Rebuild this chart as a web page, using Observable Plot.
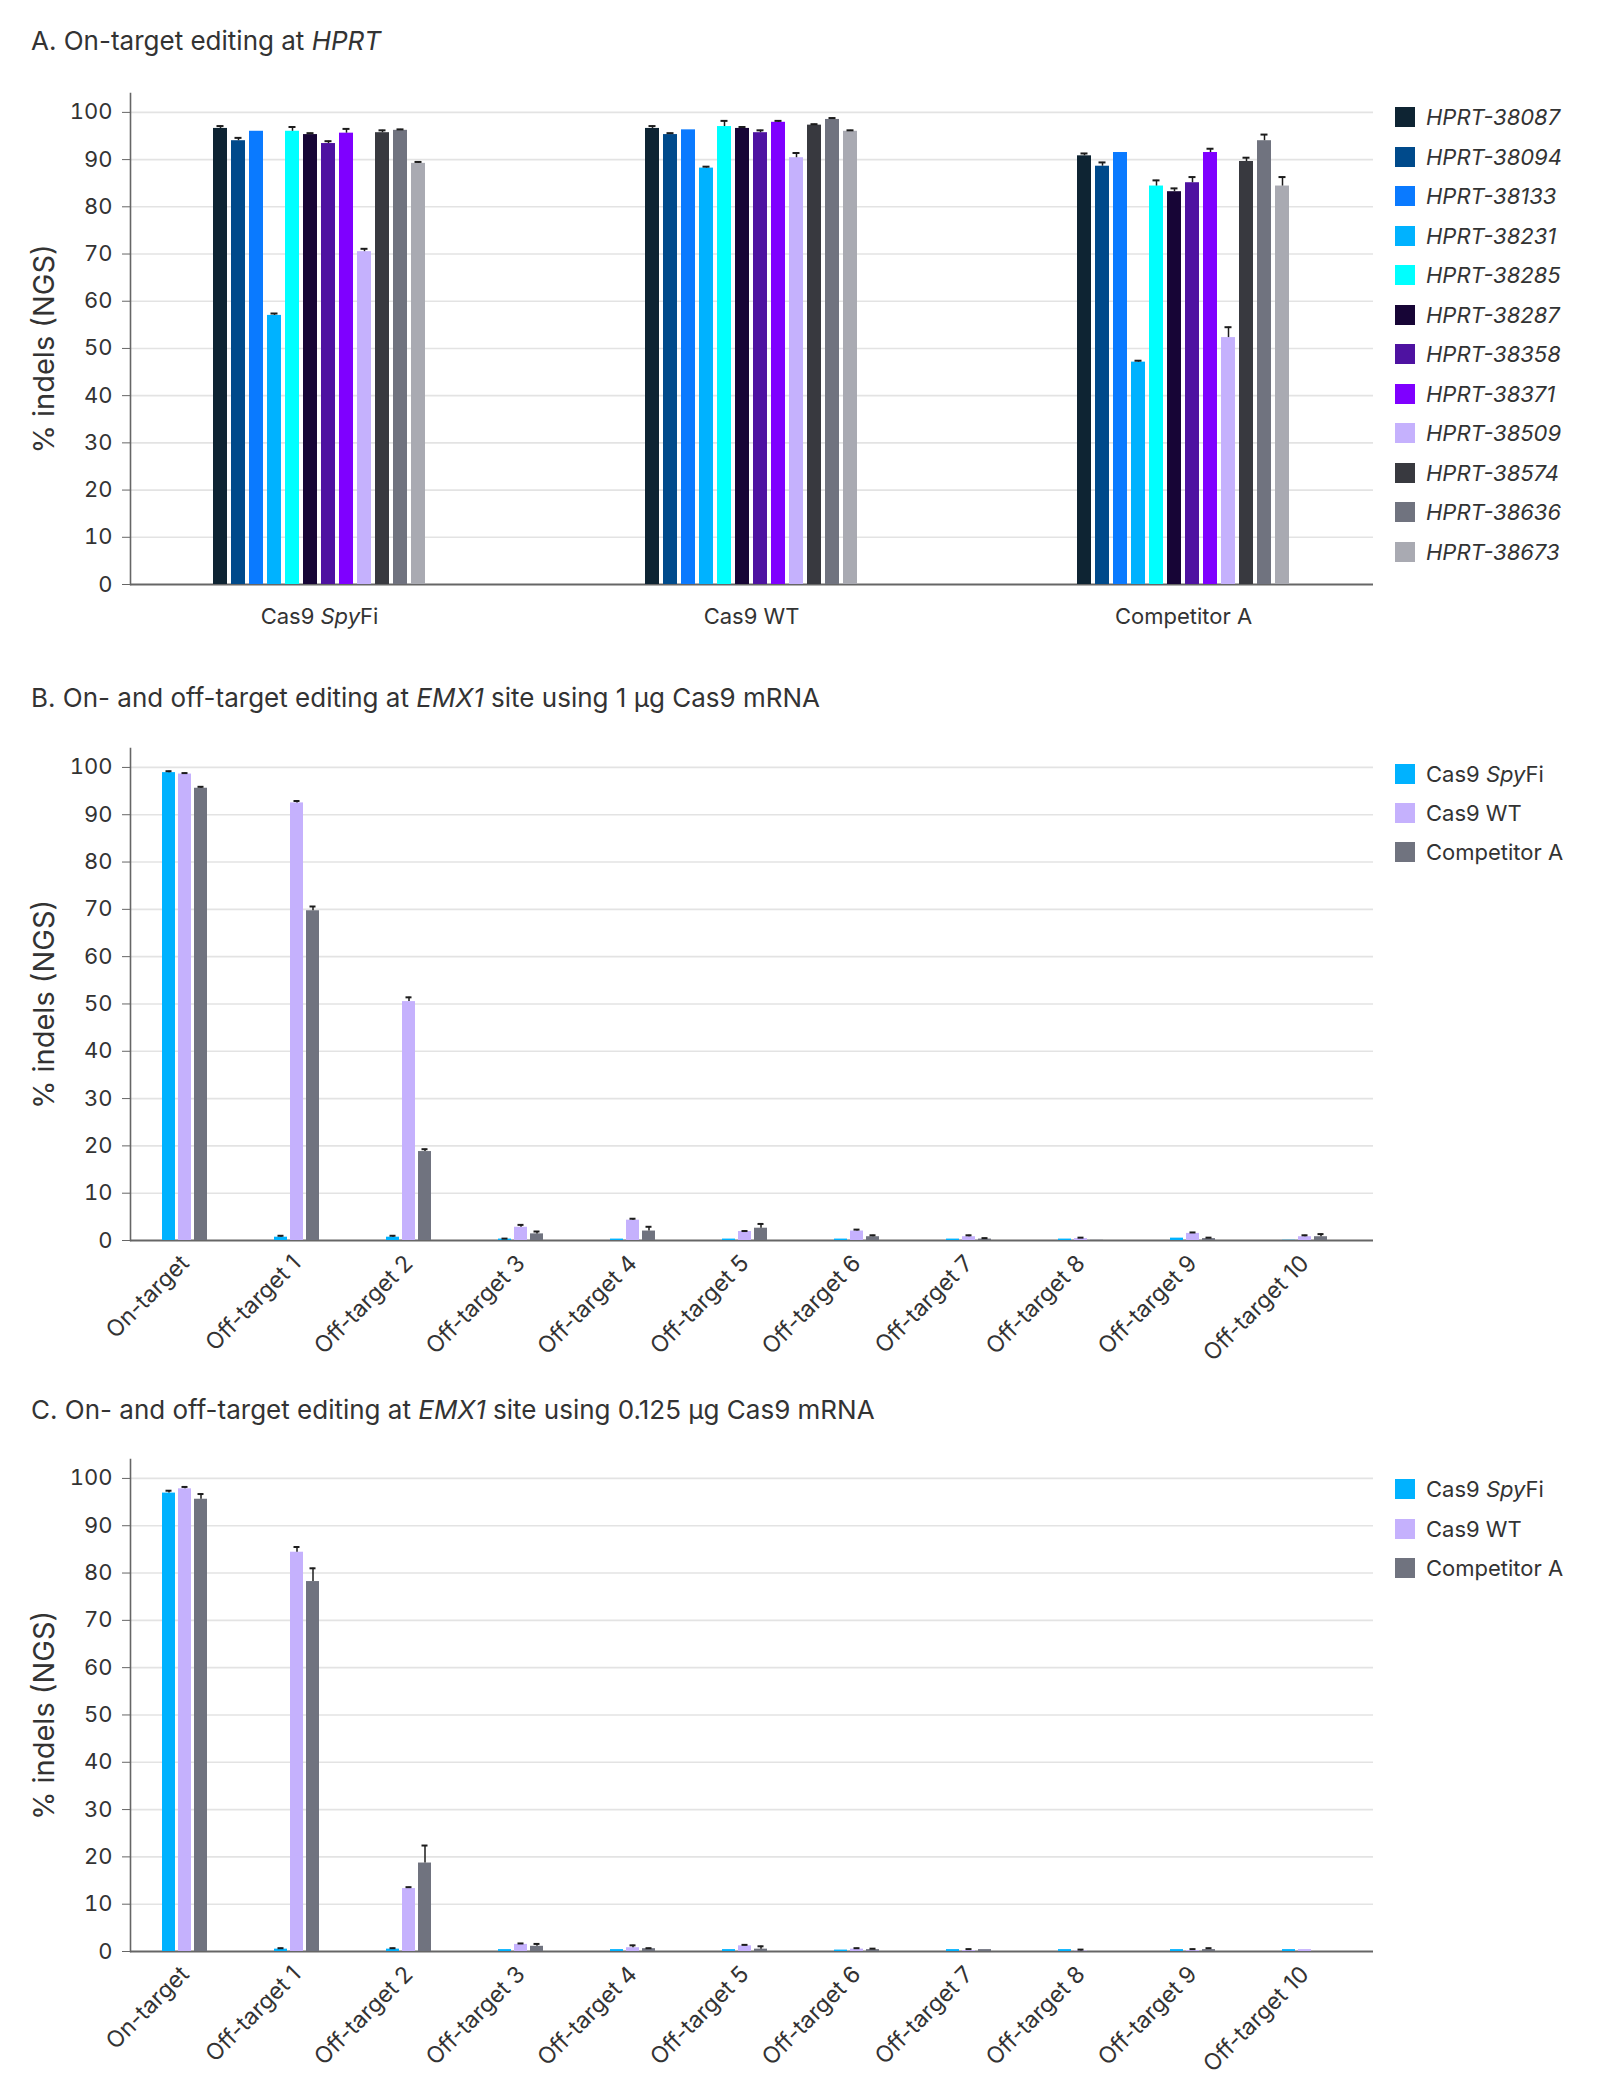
<!DOCTYPE html>
<html><head><meta charset="utf-8">
<script src="https://cdn.jsdelivr.net/npm/d3@7"></script>
<script src="https://cdn.jsdelivr.net/npm/@observablehq/plot@0.6"></script>
<style>
body{margin:0;background:#fff;font-family:Inter,"Noto Sans",sans-serif;color:#333;}
#wrap{position:relative;width:1601px;height:2082px;overflow:hidden;background:#fff;}
.title{position:absolute;left:31px;font-size:26px;line-height:30px;white-space:nowrap;color:#333;}
.panel{position:absolute;left:0;max-width:none !important;}
.legend{position:absolute;left:1395px;top:0;}
.item{position:absolute;left:0;display:flex;align-items:center;white-space:nowrap;font-size:22px;height:30px;color:#333;}
.sw{width:20px;height:20px;margin-right:11px;flex:none;}
</style></head><body><div id="wrap"></div>
<script>
// ---------- DATA ----------
const hprtGroups = ["Cas9 SpyFi", "Cas9 WT", "Competitor A"];
const hprtGuides = ["HPRT-38087","HPRT-38094","HPRT-38133","HPRT-38231","HPRT-38285","HPRT-38287","HPRT-38358","HPRT-38371","HPRT-38509","HPRT-38574","HPRT-38636","HPRT-38673"];
const hprtColors = ["#0e2433","#004a8b","#0a7aff","#00b2ff","#00ffff","#170536","#4e12a1","#7f00ff","#c5b1fd","#38393f","#70737f","#a9aab2"];
const hprtSpyFi    = [96.6, 94.0, 96.0, 57.0, 96.0, 95.3, 93.4, 95.6, 70.5, 95.7, 96.2, 89.2];
const hprtSpyFiErr = [0.5, 0.6, 0, 0.4, 0.9, 0.3, 0.5, 0.9, 0.6, 0.5, 0.2, 0.3];
const hprtWT       = [96.6, 95.3, 96.3, 88.2, 97.0, 96.6, 95.7, 97.9, 90.4, 97.3, 98.5, 96.0];
const hprtWTErr    = [0.5, 0.3, 0, 0.3, 1.2, 0.3, 0.5, 0.3, 1.0, 0.2, 0.3, 0.2];
const hprtCompA    = [90.8, 88.6, 91.5, 47.1, 84.4, 83.2, 85.1, 91.5, 52.3, 89.6, 94.0, 84.4];
const hprtCompAErr = [0.5, 0.8, 0, 0.3, 1.2, 0.7, 1.2, 0.8, 2.2, 0.8, 1.3, 1.9];

const emxSites = ["On-target","Off-target 1","Off-target 2","Off-target 3","Off-target 4","Off-target 5","Off-target 6","Off-target 7","Off-target 8","Off-target 9","Off-target 10"];
const emxSeries = ["Cas9 SpyFi", "Cas9 WT", "Competitor A"];
const emxColors = ["#00b2ff", "#c5b1fd", "#70737f"];
// B: 1 µg Cas9 mRNA
const b_SpyFi    = [98.9, 0.7, 0.7, 0.3, 0.3, 0.3, 0.3, 0.3, 0.3, 0.5, 0.05];
const b_SpyFiErr = [0.3, 0.3, 0.3, 0.1, 0, 0, 0, 0, 0, 0, 0];
const b_WT       = [98.6, 92.5, 50.5, 2.8, 4.3, 1.9, 2.0, 0.8, 0.4, 1.5, 0.8];
const b_WTErr    = [0.2, 0.4, 0.9, 0.5, 0.3, 0.1, 0.3, 0.3, 0.2, 0.2, 0.3];
const b_CompA    = [95.6, 69.7, 18.8, 1.4, 2.0, 2.6, 0.8, 0.3, 0.05, 0.4, 0.8];
const b_CompAErr = [0.3, 0.9, 0.5, 0.5, 0.9, 0.9, 0.3, 0.2, 0, 0.2, 0.55];
// C: 0.125 µg Cas9 mRNA
const c_SpyFi    = [96.9, 0.5, 0.5, 0.4, 0.4, 0.4, 0.3, 0.4, 0.4, 0.4, 0.4];
const c_SpyFiErr = [0.5, 0.2, 0.2, 0, 0, 0, 0, 0, 0, 0, 0];
const c_WT       = [97.8, 84.4, 13.3, 1.5, 0.8, 1.2, 0.5, 0.2, 0.1, 0.2, 0.4];
const c_WTErr    = [0.4, 1.1, 0.3, 0.2, 0.5, 0.2, 0.2, 0.3, 0.3, 0.3, 0];
const c_CompA    = [95.6, 78.2, 18.7, 1.1, 0.6, 0.5, 0.4, 0.4, 0, 0.4, 0];
const c_CompAErr = [1.1, 2.8, 3.7, 0.5, 0.1, 0.6, 0.2, 0, 0, 0.3, 0];

const yTicks = [0,10,20,30,40,50,60,70,80,90,100];
const yLabel = "% indels (NGS)";

// ---------- BUILD ROWS ----------
const rowsA = [];
[[hprtSpyFi, hprtSpyFiErr], [hprtWT, hprtWTErr], [hprtCompA, hprtCompAErr]].forEach(([v, e], gi) => {
  hprtGuides.forEach((s, i) => rowsA.push({group: hprtGroups[gi], series: s, value: v[i], err: e[i]}));
});
function emxRows(sets) {
  const rows = [];
  emxSites.forEach((site, i) => {
    sets.forEach(([v, e], si) => rows.push({group: site, series: emxSeries[si], value: v[i], err: e[i]}));
  });
  return rows;
}
const rowsB = emxRows([[b_SpyFi, b_SpyFiErr], [b_WT, b_WTErr], [b_CompA, b_CompAErr]]);
const rowsC = emxRows([[c_SpyFi, c_SpyFiErr], [c_WT, c_WTErr], [c_CompA, c_CompAErr]]);

// ---------- CHART ----------
const wrap = document.getElementById("wrap");
const FONT = "Inter, 'Noto Sans', sans-serif";

function italicize(svg) {
  svg.querySelectorAll("text, tspan").forEach(t => {
    if (t.childNodes.length === 1 && t.firstChild.nodeType === 3 && t.textContent === "Cas9 SpyFi") {
      t.textContent = "";
      const ns = "http://www.w3.org/2000/svg";
      t.appendChild(document.createTextNode("Cas9 "));
      const it = document.createElementNS(ns, "tspan");
      it.setAttribute("font-style", "italic");
      it.textContent = "Spy";
      t.appendChild(it);
      t.appendChild(document.createTextNode("Fi"));
    }
  });
}

function place(svg, top) {
  svg.classList.add("panel");
  svg.style.top = top + "px";
  wrap.appendChild(svg);
}

function panel(cfg) {
  const common = {
    width: 1601,
    height: cfg.height,
    marginTop: 10, marginLeft: 130, marginRight: 228, marginBottom: cfg.marginBottom,
    style: {fontFamily: FONT, fontSize: "22px", color: "#333", background: "transparent"}
  };
  // background layer: grid, y axis, baseline, axis title
  const back = Plot.plot({
    ...common,
    y: {domain: [0, 104], axis: null},
    marks: [
      Plot.ruleY(yTicks.filter(d => d > 0), {stroke: "#e3e3e3", strokeWidth: 1.6}),
      Plot.axisY(yTicks, {anchor: "left", tickSize: 8, tickPadding: 10, stroke: "#666", fill: "#333", label: null}),
      Plot.text([yLabel], {frameAnchor: "left", textAnchor: "middle", rotate: -90, dx: -86, dy: 10, fontSize: 29, fill: "#333"}),
      Plot.ruleY([0], {stroke: "#666", strokeWidth: 2}),
      Plot.frame({anchor: "left", stroke: "#666", strokeWidth: 1.6})
    ]
  });
  back.querySelectorAll("text").forEach(t => {
    if (t.textContent === yLabel) { t.style.fontSize = "29px"; t.setAttribute("text-anchor", "middle"); }
  });
  place(back, cfg.top);
  // foreground layer: grouped bars with error bars
  const errRows = cfg.rows.filter(d => d.err > 0);
  const front = Plot.plot({
    ...common,
    fx: {domain: cfg.groups, label: null, tickSize: 0, ...cfg.fx},
    x: {domain: cfg.series, axis: null, ...cfg.x},
    y: {domain: [0, 104], axis: null},
    color: {domain: cfg.series, range: cfg.colors},
    marks: [
      Plot.barY(cfg.rows, {fx: "group", x: "series", y: "value", fill: "series"}),
      Plot.ruleX(errRows, {fx: "group", x: "series", y1: "value", y2: d => d.value + d.err, stroke: "#1c1c1c", strokeWidth: 1.5}),
      Plot.tickY(errRows, {fx: "group", x: "series", y: d => d.value + d.err, stroke: "#1c1c1c", strokeWidth: 2, insetLeft: 3.5, insetRight: 3.5})
    ]
  });
  if (cfg.fxFontSize) {
    front.querySelectorAll("text").forEach(t => {
      if (cfg.groups.includes(t.textContent)) t.style.fontSize = cfg.fxFontSize;
    });
  }
  italicize(front);
  place(front, cfg.top);
}

function title(html, top) {
  const d = document.createElement("div");
  d.className = "title";
  d.style.top = top + "px";
  d.innerHTML = html;
  wrap.appendChild(d);
}

function legend(labels, colors, firstCenter, step) {
  const lg = document.createElement("div");
  lg.className = "legend";
  labels.forEach((l, i) => {
    const it = document.createElement("div");
    it.className = "item";
    it.style.top = (firstCenter + i * step - 15) + "px";
    const sw = document.createElement("div");
    sw.className = "sw";
    sw.style.background = colors[i];
    const tx = document.createElement("span");
    tx.innerHTML = l;
    it.appendChild(sw); it.appendChild(tx);
    lg.appendChild(it);
  });
  wrap.appendChild(lg);
}

title("A. On-target editing at <i>HPRT</i>", 26);
panel({
  rows: rowsA, groups: hprtGroups, series: hprtGuides, colors: hprtColors,
  top: 83, height: 561, marginBottom: 60,
  fx: {paddingInner: 0.49, paddingOuter: 0.1834, tickPadding: 24},
  x: {paddingInner: 0.21, paddingOuter: 0.105}
});
legend(hprtGuides.map(g => "<i>" + g + "</i>"), hprtColors, 117, 39.5);

const emxLegend = emxSeries.map(s => s === "Cas9 SpyFi" ? "Cas9 <i>Spy</i>Fi" : s);

title("B. On- and off-target editing at <i>EMX1</i> site using 1 µg Cas9 mRNA", 683);
panel({
  rows: rowsB, groups: emxSites, series: emxSeries, colors: emxColors,
  top: 738, height: 627, marginBottom: 125, fxFontSize: "23px",
  fx: {paddingInner: 0.578, paddingOuter: 0.3255, align: 0.407, tickRotate: -45, tickPadding: 19},
  x: {paddingInner: 0.175, paddingOuter: 0.012}
});
legend(emxLegend, emxColors, 773.7, 39);

title("C. On- and off-target editing at <i>EMX1</i> site using 0.125 µg Cas9 mRNA", 1394.5);
panel({
  rows: rowsC, groups: emxSites, series: emxSeries, colors: emxColors,
  top: 1449, height: 627, marginBottom: 125, fxFontSize: "23px",
  fx: {paddingInner: 0.578, paddingOuter: 0.3255, align: 0.407, tickRotate: -45, tickPadding: 19},
  x: {paddingInner: 0.175, paddingOuter: 0.012}
});
legend(emxLegend, emxColors, 1489, 39.5);
</script></body></html>
